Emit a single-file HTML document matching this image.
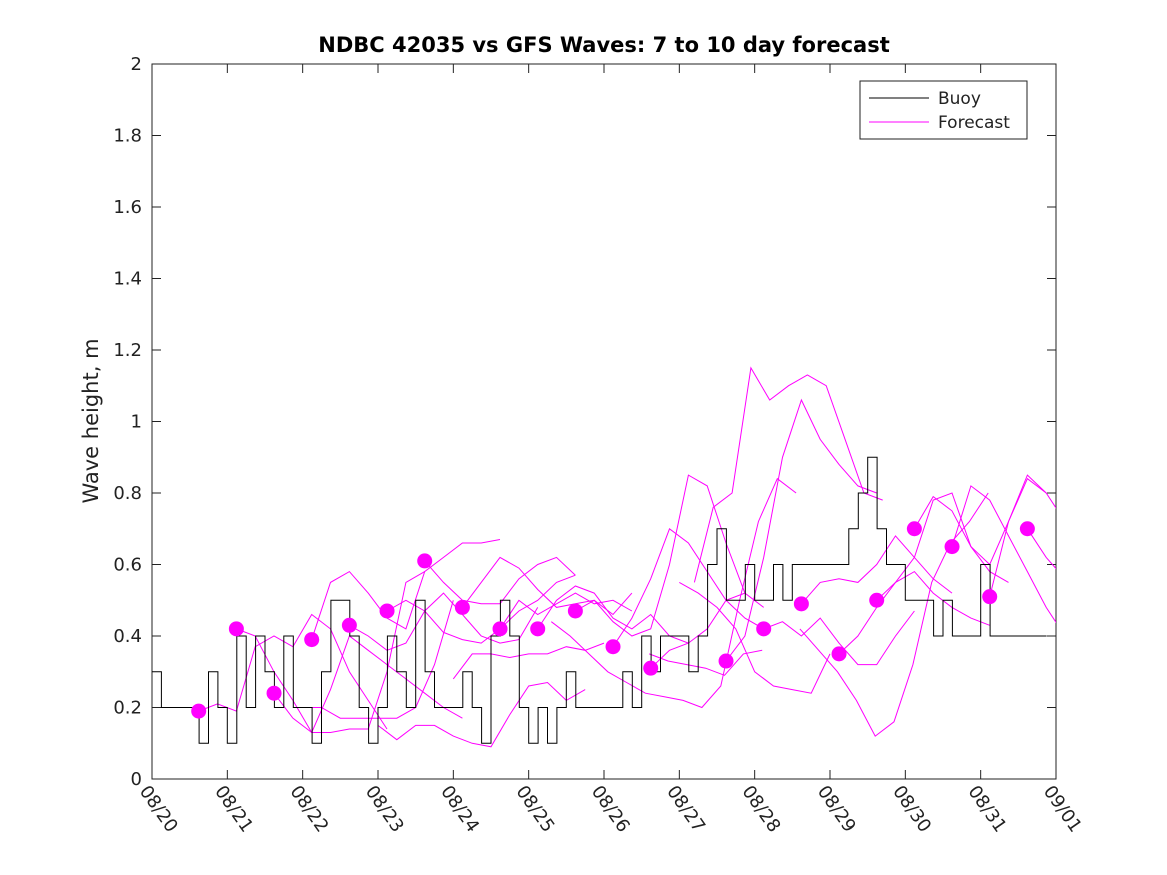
<!DOCTYPE html>
<html><head><meta charset="utf-8"><style>
body{margin:0;background:#fff;}
svg{display:block;font-family:"DejaVu Sans","Liberation Sans",sans-serif;}
</style></head><body>
<svg id="chart" width="1167" height="875" viewBox="0 0 1167 875">
<defs><clipPath id="pc"><rect x="152" y="64" width="904" height="715"/></clipPath></defs>
<rect x="0" y="0" width="1167" height="875" fill="#fff"/>
<text x="604" y="52" text-anchor="middle" font-size="21" font-weight="bold" fill="#000">NDBC 42035 vs GFS Waves: 7 to 10 day forecast</text>
<text transform="translate(98,421) rotate(-90)" text-anchor="middle" font-size="21" fill="#222">Wave height, m</text>
<g id="plot"></g>
<g id="legend">
<rect x="860" y="81" width="167" height="58" fill="#fff" stroke="#222" stroke-width="1"/>
<line x1="869" y1="98" x2="929" y2="98" stroke="#000" stroke-width="1"/>
<text x="938" y="104" font-size="17" fill="#222">Buoy</text>
<line x1="869" y1="122" x2="929" y2="122" stroke="#f0f" stroke-width="1"/>
<text x="938" y="128" font-size="17" fill="#222">Forecast</text>
</g>
</svg>
<script>
const xTickLabels=["08/20","08/21","08/22","08/23","08/24","08/25","08/26","08/27","08/28","08/29","08/30","08/31","09/01"];
const yTickLabels=["0","0.2","0.4","0.6","0.8","1","1.2","1.4","1.6","1.8","2"];
const yTickValues=[0,0.2,0.4,0.6,0.8,1,1.2,1.4,1.6,1.8,2];
const buoyStep=0.125;
const buoyValues=[0.3,0.2,0.2,0.2,0.2,0.1,0.3,0.2,
0.1,0.4,0.2,0.4,0.3,0.2,0.4,0.2,
0.2,0.1,0.3,0.5,0.5,0.4,0.2,0.1,
0.2,0.4,0.3,0.2,0.5,0.3,0.2,0.2,
0.2,0.3,0.2,0.1,0.4,0.5,0.4,0.2,
0.1,0.2,0.1,0.2,0.3,0.2,0.2,0.2,
0.2,0.2,0.3,0.2,0.4,0.3,0.4,0.4,
0.4,0.3,0.4,0.6,0.7,0.5,0.5,0.6,
0.5,0.5,0.6,0.5,0.6,0.6,0.6,0.6,
0.6,0.6,0.7,0.8,0.9,0.7,0.6,0.6,
0.5,0.5,0.5,0.4,0.5,0.4,0.4,0.4,
0.6,0.4,0.4,0.4,0.4,0.4,0.4];
const markerTimes=[0.62,1.12,1.62,2.12,2.62,3.12,3.62,4.12,4.62,5.12,5.62,6.12,6.62,7.62,8.12,8.62,9.12,9.62,10.12,10.62,11.12,11.62];
const markerValues=[0.19,0.42,0.24,0.39,0.43,0.47,0.61,0.48,0.42,0.42,0.47,0.37,0.31,0.33,0.42,0.49,0.35,0.50,0.70,0.65,0.51,0.70];
const forecastStep=0.25;
const forecastStarts=[0.62,1.12,1.62,2.12,2.62,3.12,3.62,4.12,4.62,5.12,5.62,6.12,6.62,7.62,8.12,8.62,9.12,9.62,10.12,10.62,11.12,11.62,2.0,3.0,4.0,5.3,7.2,6.6,8.6,7.0];
const forecastValues=[
[0.19,0.21,0.19,0.37,0.40,0.37,0.46,0.42,0.30,0.22,0.14],
[0.42,0.40,0.30,0.22,0.13,0.13,0.14,0.14,0.30,0.55,0.58],
[0.24,0.17,0.13,0.25,0.40,0.36,0.32,0.28,0.24,0.20,0.17],
[0.39,0.55,0.58,0.52,0.45,0.42,0.58,0.62,0.66,0.66,0.67],
[0.43,0.40,0.36,0.38,0.47,0.52,0.46,0.40,0.38,0.39,0.48],
[0.47,0.50,0.47,0.41,0.39,0.38,0.42,0.47,0.50,0.55,0.57],
[0.61,0.55,0.50,0.49,0.49,0.56,0.60,0.62,0.57],
[0.48,0.55,0.62,0.59,0.53,0.48,0.49,0.50,0.46,0.52],
[0.42,0.50,0.46,0.49,0.52,0.49,0.50,0.47],
[0.42,0.50,0.54,0.52,0.45,0.42,0.46,0.40,0.38],
[0.47,0.50,0.44,0.40,0.42,0.60,0.85,0.82,0.66,0.52],
[0.37,0.45,0.56,0.70,0.66,0.58,0.50,0.45,0.42],
[0.31,0.36,0.38,0.42,0.50,0.52,0.48],
[0.33,0.40,0.62,0.90,1.06,0.95,0.88,0.82,0.80],
[0.42,0.44,0.40,0.45,0.38,0.32,0.32,0.40,0.47],
[0.49,0.55,0.56,0.55,0.60,0.68,0.62,0.56,0.52],
[0.35,0.40,0.48,0.55,0.58,0.52,0.48,0.45,0.43],
[0.50,0.55,0.62,0.78,0.80,0.65,0.58,0.55],
[0.70,0.79,0.75,0.65,0.60,0.72,0.84,0.80],
[0.65,0.82,0.78,0.68,0.58,0.48,0.40,0.36,0.36],
[0.51,0.72,0.85,0.80,0.72,0.62,0.55],
[0.70,0.62,0.56,0.50,0.46],
[0.20,0.20,0.17,0.17,0.17,0.17,0.20,0.32,0.50],
[0.15,0.11,0.15,0.15,0.12,0.10,0.09,0.18,0.26,0.27,0.22,0.25],
[0.28,0.35,0.35,0.34,0.35,0.35,0.37,0.36,0.38],
[0.44,0.40,0.35,0.30,0.27,0.24,0.23,0.22,0.20,0.26,0.50,0.72,0.84,0.80],
[0.55,0.76,0.80,1.15,1.06,1.10,1.13,1.10,0.95,0.80,0.78],
[0.35,0.33,0.32,0.31,0.29,0.35,0.36],
[0.42,0.36,0.30,0.22,0.12,0.16,0.32,0.55,0.66,0.72,0.80],
[0.55,0.52,0.48,0.42,0.30,0.26,0.25,0.24,0.35]
];

const X0=152,X1=1056,Y0=779,Y1=64;
function xs(d){return X0+(X1-X0)*d/12;}
function ys(v){return Y0-(Y0-Y1)*v/2;}
const NS="http://www.w3.org/2000/svg";
const plot=document.getElementById('plot');
function mk(tag,attrs,parent){const e=document.createElementNS(NS,tag);for(const k in attrs)e.setAttribute(k,attrs[k]);(parent||plot).appendChild(e);return e;}

const frame=mk('rect',{x:X0,y:Y1,width:X1-X0,height:Y0-Y1,fill:'none',stroke:'#222','stroke-width':1});



yTickValues.forEach((v,i)=>{
  const y=ys(v);
  mk('line',{x1:X0,y1:y,x2:X0+9,y2:y,stroke:'#222'});
  mk('line',{x1:X1,y1:y,x2:X1-9,y2:y,stroke:'#222'});
  const t=mk('text',{x:X0-10,y:y+6,'text-anchor':'end','font-size':18,fill:'#222'});
  t.textContent=yTickLabels[i];
  
  
});
xTickLabels.forEach((lab,i)=>{
  const x=xs(i);
  mk('line',{x1:x,y1:Y0,x2:x,y2:Y0-9,stroke:'#222'});
  mk('line',{x1:x,y1:Y1,x2:x,y2:Y1+9,stroke:'#222'});
  const t=mk('text',{transform:`translate(${x-13},${Y0+12}) rotate(55)`,'font-size':18,fill:'#222'});
  t.textContent=lab;
  
  
});

const data=mk('g',{'clip-path':'url(#pc)'});
forecastStarts.forEach((s,i)=>{
  const pts=forecastValues[i].map((v,j)=>xs(s+j*forecastStep).toFixed(1)+','+ys(v).toFixed(1)).join(' ');
  const pl=mk('polyline',{points:pts,fill:'none',stroke:'#f0f','stroke-width':1},data);
  
  
});

let bp=[];
buoyValues.forEach((v,i)=>{
  const a=xs(i*buoyStep),b=xs((i+1)*buoyStep),y=ys(v);
  bp.push(a.toFixed(1)+','+y.toFixed(1));bp.push(b.toFixed(1)+','+y.toFixed(1));
});
const buoy=mk('polyline',{points:bp.join(' '),fill:'none',stroke:'#000','stroke-width':1},data);



markerTimes.forEach((t,i)=>{
  const c=mk('circle',{cx:xs(t),cy:ys(markerValues[i]),r:7.5,fill:'#f0f'},data);
  
  
});
</script>
</body></html>
